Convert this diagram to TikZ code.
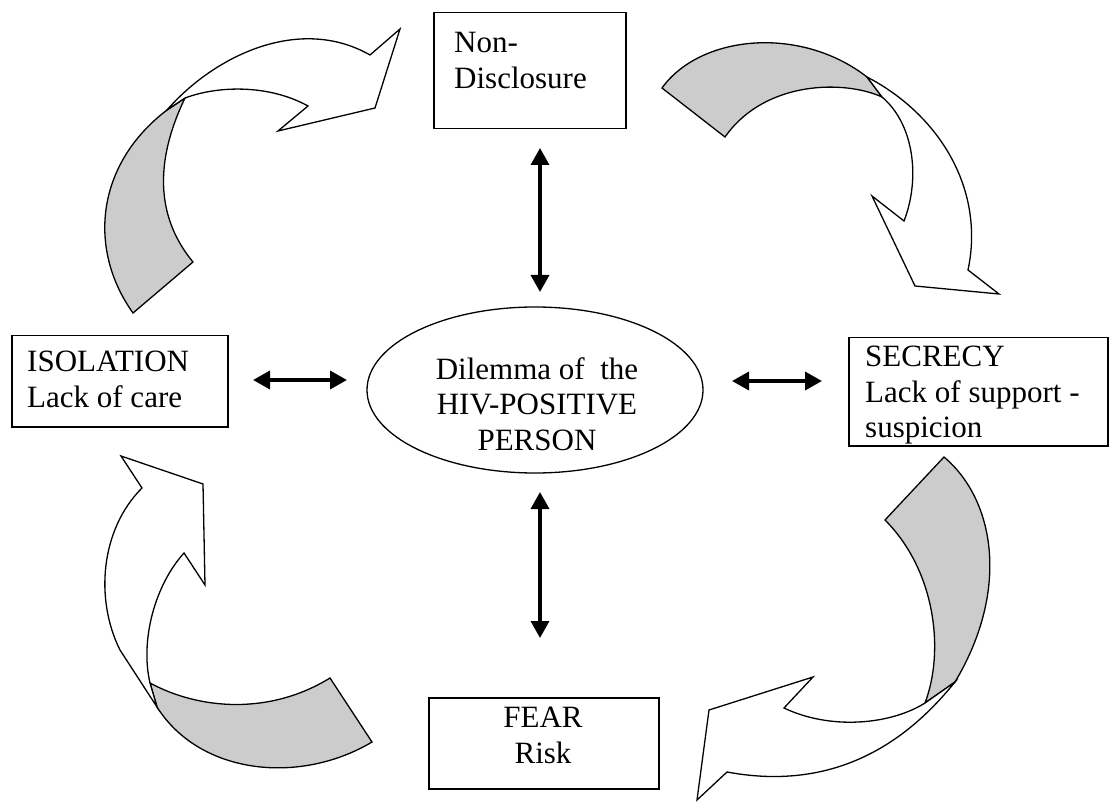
\documentclass[tikz,border=0pt]{standalone}
\usepackage{fontspec}
\setmainfont{Liberation Serif}
\usetikzlibrary{arrows.meta,shapes.geometric}
\begin{document}
\begin{tikzpicture}[x=1pt,y=-1pt,
  box/.style={draw,line width=1.5pt,inner sep=0pt,anchor=north west},
  txt/.style={font=\fontsize{31}{35.6}\selectfont,inner sep=0pt},
  dbl/.style={line width=3.5pt,{Triangle[length=17pt,width=18pt]}-{Triangle[length=17pt,width=18pt]}},
  band/.style={draw,line width=1.3pt,line join=miter},
  back/.style={band,fill=black!20},
  front/.style={band,fill=white}]
\useasboundingbox[fill=white] (0,0) rectangle (1109,802);

% frames
\node[box,minimum width=192pt,minimum height=116pt] (nd) at (433,12) {};
\node[box,minimum width=216pt,minimum height=91pt] (iso) at (11,335) {};
\node[box,minimum width=259pt,minimum height=108pt] (sec) at (848,337) {};
\node[box,minimum width=230pt,minimum height=91pt] (fear) at (428,697) {};
\node[draw,line width=1.3pt,ellipse,inner sep=0pt,minimum width=336pt,minimum height=166pt] (dil) at (535,390) {};

% texts
\node[txt,anchor=north west,align=left] (ndt) at (454,32) {Non-\\Disclosure};
\node[txt,anchor=north west,align=left] (isot) at (27,351) {ISOLATION\\Lack of care};
\node[txt,anchor=north west,align=left] (sect) at (865,346) {SECRECY\\Lack of support -\\suspicion};
\node[txt,anchor=north,align=center] (feart) at (543,707) {FEAR\\Risk};
\node[txt,anchor=north,align=center] (dilt) at (537,357) {Dilemma of\ \ the\\HIV-POSITIVE\\PERSON};

% two-way arrows around the centre
\coordinate (up1) at (540,148);  \coordinate (up2) at (540,292);
\coordinate (dn1) at (540,492);  \coordinate (dn2) at (540,638);
\coordinate (lf1) at (253,380);  \coordinate (lf2) at (347,380);
\coordinate (rt1) at (732,381);  \coordinate (rt2) at (822,381);
\draw[dbl] (up1) -- (up2);
\draw[dbl] (dn1) -- (dn2);
\draw[dbl] (lf1) -- (lf2);
\draw[dbl] (rt1) -- (rt2);

% curved arrow: isolation -> non-disclosure
\draw[back] (133,313) .. controls (88,250) and (95,165) .. (167,110) -- (185,98)
  .. controls (160,150) and (150,210) .. (193,262) -- cycle;
\draw[front] (167,110) .. controls (215,55) and (300,15) .. (370,55) -- (400,29) -- (375,108)
  -- (278,131) -- (308,106) .. controls (270,85) and (220,85) .. (185,98) -- cycle;

% curved arrow: non-disclosure -> secrecy
\draw[back] (662,88) .. controls (700,35) and (800,25) .. (867,77) -- (882,97)
  .. controls (845,80) and (765,80) .. (725,137) -- cycle;
\draw[front] (867,77) .. controls (940,115) and (985,190) .. (968,270) -- (999,294) -- (915,286)
  -- (872,196) -- (904,221) .. controls (920,180) and (915,125) .. (882,97) -- cycle;

% curved arrow: secrecy -> fear
\draw[back] (944,457) .. controls (995,500) and (1010,590) .. (955,682) -- (925,703)
  .. controls (945,650) and (935,570) .. (885,520) -- cycle;
\draw[front] (955,682) .. controls (920,725) and (850,795) .. (727,772) -- (697,800) -- (709,710)
  -- (813,677) -- (784,708) .. controls (830,730) and (890,725) .. (925,703) -- cycle;

% curved arrow: fear -> isolation
\draw[back] (150,683) .. controls (200,710) and (270,715) .. (330,678) -- (372,742)
  .. controls (300,785) and (200,775) .. (157,707) -- cycle;
\draw[front] (157,707) -- (120,650) .. controls (95,600) and (100,530) .. (142,488) -- (121,456)
  -- (203,484) -- (205,585) -- (184,553) .. controls (155,585) and (140,640) .. (150,683) -- cycle;
\end{tikzpicture}
\end{document}
